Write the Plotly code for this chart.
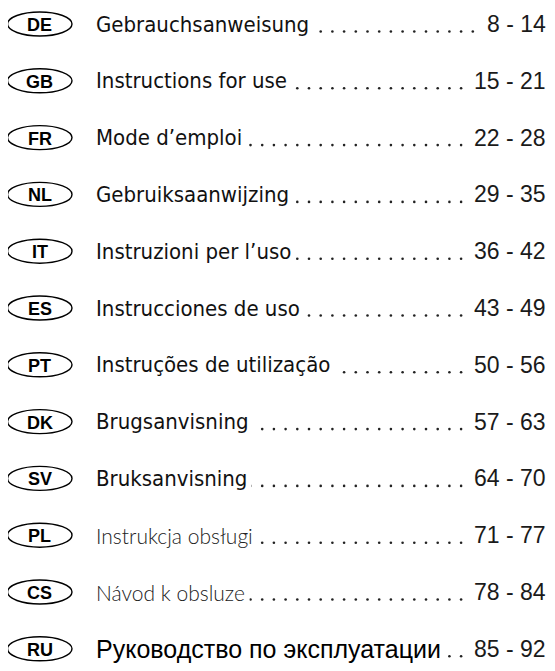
import numpy as np
import plotly.graph_objects as go

# ---- data ----
codes = ["DE", "GB", "FR", "NL", "IT", "ES", "PT", "DK", "SV", "PL", "CS", "RU"]
titles = [
    "Gebrauchsanweisung",
    "Instructions for use",
    "Mode d\u2019emploi",
    "Gebruiksaanwijzing",
    "Instruzioni per l\u2019uso",
    "Instrucciones de uso",
    "Instru\u00e7\u00f5es de utiliza\u00e7\u00e3o",
    "Brugsanvisning",
    "Bruksanvisning",
    "Instrukcja obs\u0142ugi",
    "N\u00e1vod k obsluze",
    "\u0420\u0443\u043a\u043e\u0432\u043e\u0434\u0441\u0442\u0432\u043e \u043f\u043e \u044d\u043a\u0441\u043f\u043b\u0443\u0430\u0442\u0430\u0446\u0438\u0438",
]
pages = ["8 - 14", "15 - 21", "22 - 28", "29 - 35", "36 - 42", "43 - 49",
         "50 - 56", "57 - 63", "64 - 70", "71 - 77", "78 - 84", "85 - 92"]

# ---- styling / layout ----
W, H = 555, 671
OFF = 8  # page body margin compensation
ROW0, ROWSTEP = 24, 56.8
BADGE_X0, BADGE_X1, BADGE_H = 7.5, 72, 24
TITLE_X = 91
RIGHT_X = 551
DOT_STEP = 11.7

base_title_font = dict(family="DejaVu Sans Condensed, sans-serif", size=22, color="#111111")
special_fonts = {
    "PL": dict(family="Lato, Noto Sans, sans-serif", size=21, color="#222222", weight=300),
    "CS": dict(family="Lato, Noto Sans, sans-serif", size=21, color="#222222", weight=300),
    "RU": dict(family="Liberation Sans, Arial, sans-serif", size=25, color="#000000"),
}
page_font = dict(family="Liberation Sans, Arial, sans-serif", size=23, color="#1a1a1a")
badge_font = dict(family="Liberation Sans, Arial, sans-serif", size=18, color="#000000", weight="bold")

fig = go.Figure()
shapes = []
annotations = []
dot_x, dot_y = [], []

for i, (code, title, pg) in enumerate(zip(codes, titles, pages)):
    yc = ROW0 + i * ROWSTEP
    # badge
    shapes.append(dict(type="circle", xref="x", yref="y",
                       x0=BADGE_X0, x1=BADGE_X1, y0=yc - BADGE_H / 2, y1=yc + BADGE_H / 2,
                       line=dict(color="#000000", width=1.4), fillcolor="rgba(0,0,0,0)"))
    annotations.append(dict(x=(BADGE_X0 + BADGE_X1) / 2, y=yc + 1, xref="x", yref="y",
                            text=code, showarrow=False, font=badge_font,
                            xanchor="center", yanchor="middle"))
    # leader dots (covered by title/page labels with white backgrounds)
    xs = np.arange(RIGHT_X - 8, TITLE_X + 5, -DOT_STEP)
    dot_x.extend(xs.tolist())
    dot_y.extend([yc + 7.5] * len(xs))
    # title
    annotations.append(dict(x=TITLE_X, y=yc, xref="x", yref="y", text=title,
                            showarrow=False, font=special_fonts.get(code, base_title_font),
                            xanchor="left", yanchor="middle", bgcolor="#ffffff", borderpad=4))
    # pages
    annotations.append(dict(x=RIGHT_X, y=yc, xref="x", yref="y", text=pg,
                            showarrow=False, font=page_font,
                            xanchor="right", yanchor="middle", bgcolor="#ffffff", borderpad=4))

fig.add_trace(go.Scatter(x=dot_x, y=dot_y, mode="markers",
                         marker=dict(size=2.6, color="#222222", symbol="circle"),
                         hoverinfo="skip", showlegend=False))

fig.update_layout(
    width=W, height=H,
    margin=dict(l=0, r=0, t=0, b=0),
    paper_bgcolor="#ffffff", plot_bgcolor="#ffffff",
    xaxis=dict(range=[OFF, W + OFF], visible=False, fixedrange=True),
    yaxis=dict(range=[H + OFF, OFF], visible=False, fixedrange=True),
    shapes=shapes, annotations=annotations, showlegend=False,
)

fig.write_html("out.html", config={"displayModeBar": False})
